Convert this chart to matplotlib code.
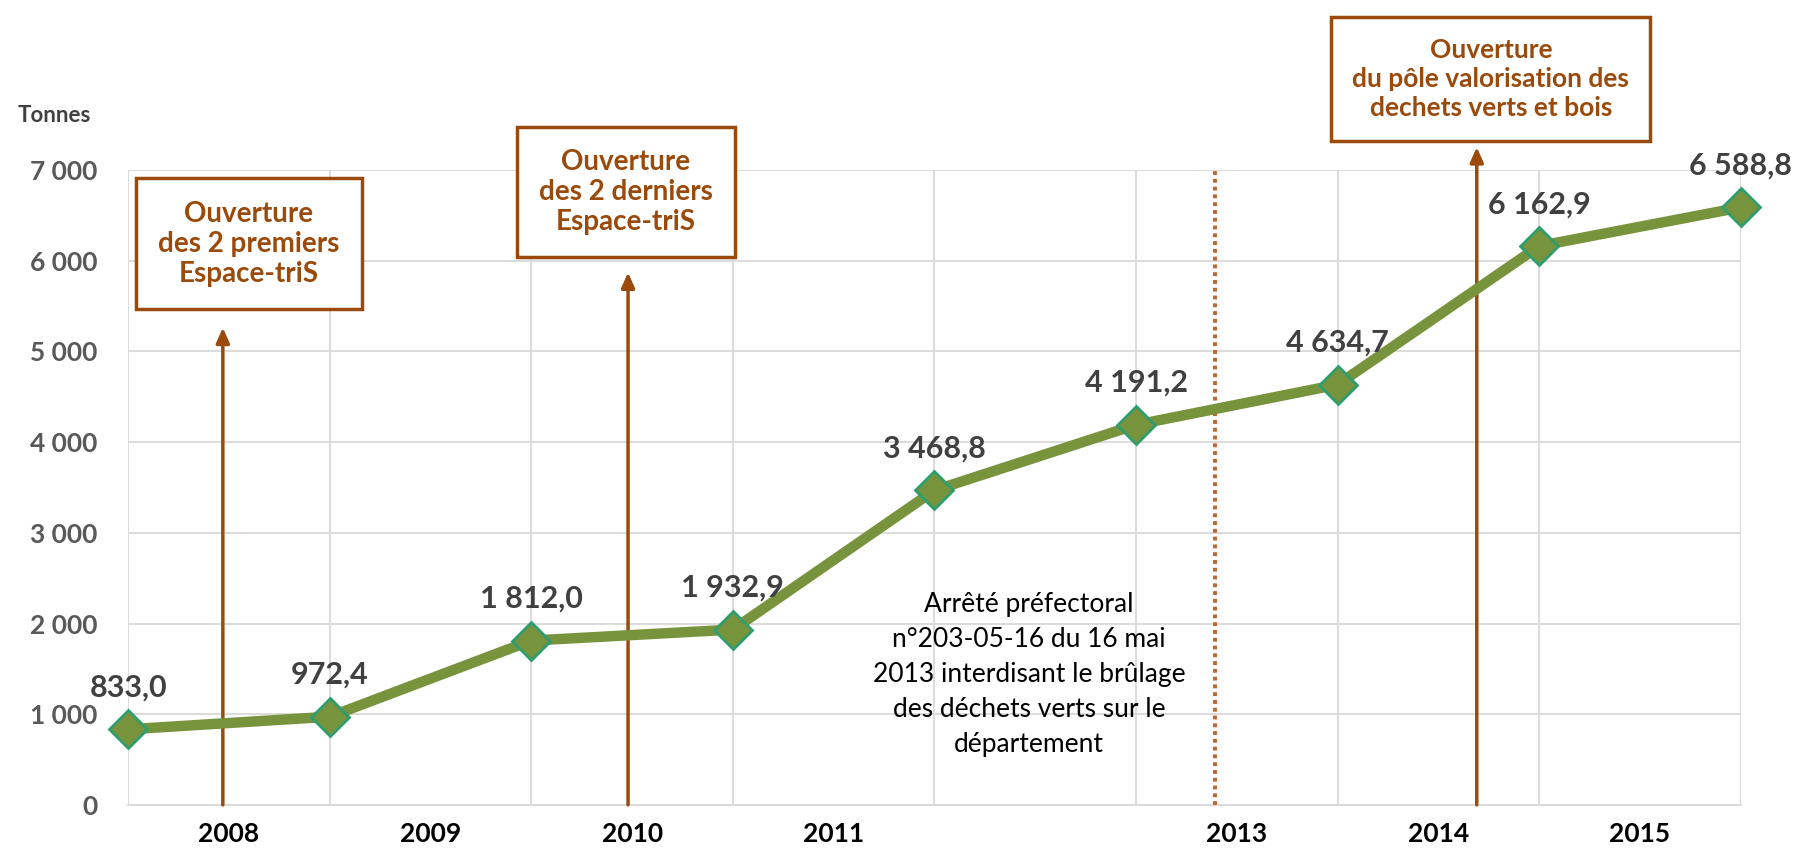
import matplotlib.pyplot as plt

# Data
positions = [0, 1, 2, 3, 4, 5, 6, 7, 8]
tonnes = [833.0, 972.4, 1812.0, 1932.9, 3468.8, 4191.2, 4634.7, 6162.9, 6588.8]
year_labels = ["2008", "2009", "2010", "2011", "", "2013", "2014", "2015"]
year_positions = [0.5, 1.5, 2.5, 3.5, 4.5, 5.5, 6.5, 7.5]
y_ticks = [0, 1000, 2000, 3000, 4000, 5000, 6000, 7000]


def fr_number(v, decimals=0):
    s = f"{v:,.{decimals}f}"
    return s.replace(",", " ").replace(".", ",")


plt.rcParams['font.family'] = ['Lato', 'DejaVu Sans']

brown = "#9A4A0B"
line_green = "#77933C"
edge_green = "#2E9E6E"
label_grey = "#404040"

fig = plt.figure(figsize=(18.04, 8.59), dpi=100)
ax = fig.add_axes([0.071, 0.063, 0.894, 0.739])

ax.plot(positions, tonnes, color=line_green, lw=7.5, marker="D", markersize=19,
        markerfacecolor=line_green, markeredgecolor=edge_green, markeredgewidth=2,
        zorder=5, clip_on=False)

for x, v in zip(positions, tonnes):
    ax.annotate(fr_number(v, 1), (x, v), xytext=(0, 20), textcoords="offset points",
                ha="center", va="bottom", fontsize=22, fontweight="bold",
                color=label_grey, zorder=6)

ax.set_xlim(0, 8)
ax.set_ylim(0, 7000)
ax.set_yticks(y_ticks)
ax.set_yticklabels([fr_number(t) for t in y_ticks], fontsize=19, fontweight="bold",
                   color="#595959")
ax.set_xticks(positions)
ax.set_xticklabels([])
ax.set_xticks(year_positions, minor=True)
ax.set_xticklabels(year_labels, minor=True, fontsize=19, fontweight="bold", color="black")
ax.tick_params(axis="x", which="both", length=0, pad=12)
ax.tick_params(axis="y", length=0, pad=22)

ax.grid(True, which="major", color="#D9D9D9", lw=1.3)
for s in ["top", "right", "left"]:
    ax.spines[s].set_visible(False)
ax.spines["bottom"].set_color("#D9D9D9")
ax.spines["bottom"].set_linewidth(1.3)

ax.text(-0.55, 7600, "Tonnes", fontsize=16, fontweight="bold", color=label_grey,
        ha="left", va="center")

# Event arrows
arrow_kw = dict(arrowstyle="-|>,head_length=0.9,head_width=0.4", color=brown, lw=2.5,
                shrinkA=0, shrinkB=0)
ax.annotate("", xy=(0.47, 5262), xytext=(0.47, 0), arrowprops=arrow_kw, annotation_clip=False)
ax.annotate("", xy=(2.48, 5871), xytext=(2.48, 0), arrowprops=arrow_kw, annotation_clip=False)
ax.annotate("", xy=(6.69, 7253), xytext=(6.69, 0), arrowprops=arrow_kw, annotation_clip=False)

ax.plot([5.39, 5.39], [0, 7000], color="#C0652A", lw=2.8, linestyle=(0, (1, 1)), zorder=3)

box_kw = dict(boxstyle="square,pad=0.8", facecolor="white", edgecolor=brown, lw=2.5)
ax.text(0.60, 6188, "Ouverture\ndes 2 premiers\nEspace-triS", ha="center", va="center",
        fontsize=20, fontweight="bold", color=brown, linespacing=1.2, bbox=box_kw, zorder=7)
ax.text(2.47, 6759, "Ouverture\ndes 2 derniers\nEspace-triS", ha="center", va="center",
        fontsize=20, fontweight="bold", color=brown, linespacing=1.2, bbox=box_kw, zorder=7)
ax.text(6.76, 8001, "Ouverture\ndu pôle valorisation des\ndechets verts et bois",
        ha="center", va="center", fontsize=19, fontweight="bold", color=brown,
        linespacing=1.25, bbox=box_kw, zorder=7)

ax.text(4.47, 1440, "Arrêté préfectoral\nn°203-05-16 du 16 mai\n2013 interdisant le brûlage\n"
        "des déchets verts sur le\ndépartement", ha="center", va="center", fontsize=19,
        color="black", linespacing=1.5, zorder=7)

fig.savefig("out.png", dpi=100)
